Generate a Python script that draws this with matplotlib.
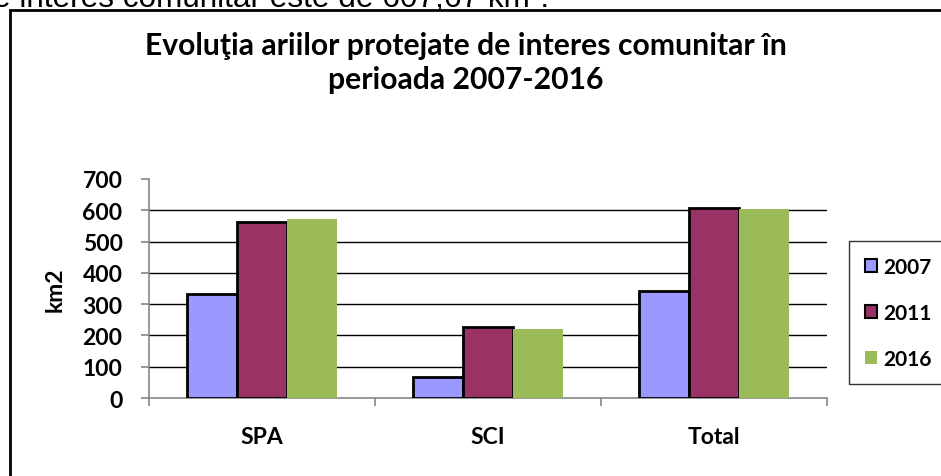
import numpy as np
import matplotlib
matplotlib.use("Agg")
import matplotlib.pyplot as plt
from matplotlib.patches import Rectangle, Patch

W, H = 941, 477
categories = ["SPA", "SCI", "Total"]
years = ["2007", "2011", "2016"]
v2007 = [332, 68, 341]
v2011 = [562, 228, 606]
v2016 = [573, 221, 605]
yticks = [0, 100, 200, 300, 400, 500, 600, 700]

colors = ["#9999FF", "#993366", "#9BBB59"]
edges = ["black", "black", "none"]

plt.rcParams["font.family"] = ["Lato", "DejaVu Sans"]

fig = plt.figure(figsize=(W / 100, H / 100), dpi=100)


def fx(px):
    return px / W


def fy(py):
    return 1 - py / H


# cut-off sentence from the surrounding document
fig.text(fx(-7), fy(7), "e interes comunitar este de 607,67 km².", fontsize=22.7,
         family=["Liberation Sans", "DejaVu Sans"],
         ha="left", va="baseline", color="black")

# chart frame
fig.patches.append(Rectangle((fx(10), fy(490)), fx(960), fy(11) - fy(490),
                             transform=fig.transFigure, fill=False,
                             edgecolor="black", linewidth=2, clip_on=False))

fig.text(fx(466), fy(46), "Evoluţia ariilor protejate de interes comunitar în",
         fontsize=21.7, fontweight="bold", ha="center", va="center")
fig.text(fx(466), fy(80), "perioada 2007-2016",
         fontsize=21.7, fontweight="bold", ha="center", va="center")

ax = fig.add_axes([fx(149), fy(399), fx(827) - fx(149), fy(180) - fy(399)])
x = np.arange(len(categories))
bw = 0.222
for i, vals in enumerate([v2007, v2011, v2016]):
    ax.bar(x + (i - 1) * bw, vals, bw, color=colors[i],
           edgecolor=edges[i], linewidth=2 if edges[i] != "none" else 0,
           label=years[i], zorder=3)

ax.set_xlim(-0.5, 2.5)
ax.set_ylim(0, 700)
ax.set_yticks(yticks)
ax.set_yticklabels([str(t) for t in yticks], fontsize=16.5, fontweight="bold")
ax.set_xticks(x)
ax.set_xticklabels(categories, fontsize=16.5, fontweight="bold")
ax.tick_params(axis="x", length=0, pad=20)
ax.set_xticks([-0.5, 0.5, 1.5, 2.5], minor=True)
ax.tick_params(axis="x", which="minor", length=6, color="#868686", width=1.2)
ax.tick_params(axis="y", length=6, color="#868686", width=1.2, pad=13)
for t in yticks[1:-1]:
    ax.axhline(t, color="black", linewidth=1, zorder=1)
for s in ["top", "right"]:
    ax.spines[s].set_visible(False)
for s in ["left", "bottom"]:
    ax.spines[s].set_color("#868686")
    ax.spines[s].set_linewidth(1.2)
ax.set_ylabel("km2", fontsize=16.5, fontweight="bold", labelpad=12)

handles = [Patch(facecolor=colors[i], edgecolor=edges[i],
                 linewidth=1.5 if edges[i] != "none" else 0) for i in range(3)]
leg = fig.legend(handles, years, loc="upper left", bbox_to_anchor=(fx(849), fy(242)),
                 frameon=True, fancybox=False, edgecolor="black",
                 prop={"weight": "bold", "size": 15}, handlelength=0.6,
                 handleheight=0.6, handletextpad=0.3, labelspacing=1.25,
                 borderpad=0.75, borderaxespad=0)
leg.get_frame().set_linewidth(1)

fig.savefig("out.png", dpi=100)
